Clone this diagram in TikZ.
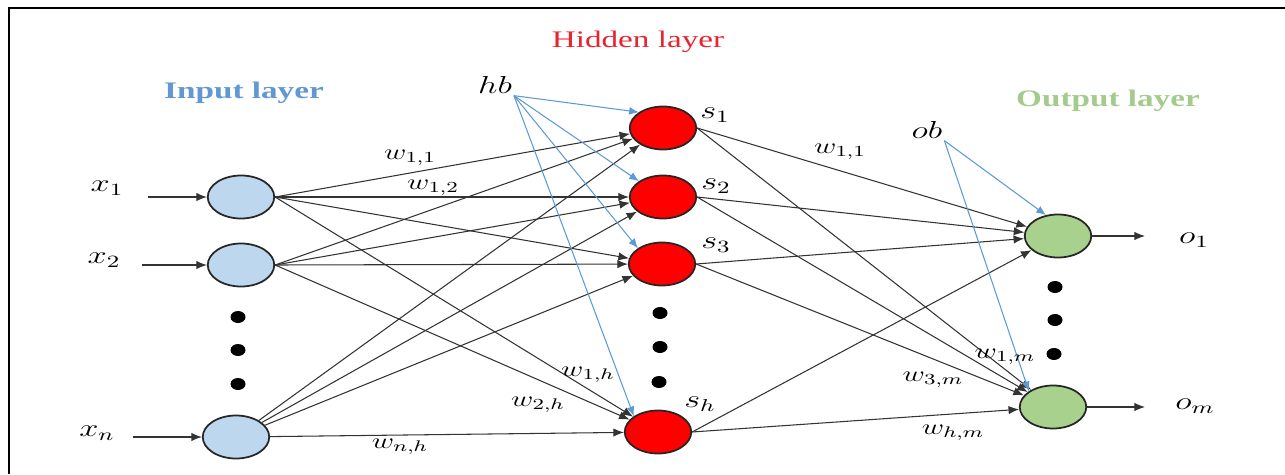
\documentclass[tikz,border=0pt]{standalone}
\usepackage{fix-cm}
\usepackage{fontspec}
\usetikzlibrary{
    arrows.meta,
    shapes.geometric
}
\newfontfamily\titlefont{Liberation Serif}
\definecolor{inblue}{RGB}{189,215,238}
\definecolor{hidred}{RGB}{255,0,0}
\definecolor{outgreen}{RGB}{169,209,142}
\definecolor{biasblue}{RGB}{91,155,213}
\definecolor{intitle}{RGB}{98,152,210}
\definecolor{hidtitle}{RGB}{232,36,48}
\definecolor{outtitle}{RGB}{163,204,140}
\newcommand{\stretchx}[1]{\scalebox{1.4}[1]{#1}}

\begin{document}
\begin{tikzpicture}[
    x=0.02cm, y=-0.02cm,
    neuron/.style={
        ellipse,
        draw=black!85,
        line width=1pt,
        minimum width=1.33cm,
        minimum height=0.86cm,
        inner sep=0pt
    },
    inneuron/.style={neuron, fill=inblue},
    hidneuron/.style={neuron, fill=hidred},
    outneuron/.style={neuron, fill=outgreen},
    dot/.style={
        ellipse,
        fill=black,
        minimum width=0.3cm,
        minimum height=0.24cm,
        inner sep=0pt
    },
    arrow/.style={
        -{Latex[length=6pt,width=4.8pt]},
        line width=0.6pt,
        draw=black!80
    },
    biasarrow/.style={
        -{Latex[length=5.5pt,width=4.5pt]},
        line width=0.6pt,
        draw=biasblue
    },
    lbl/.style={font=\fontsize{14}{16}\selectfont, inner sep=1pt},
    weight/.style={font=\fontsize{12.5}{14}\selectfont, inner sep=1pt},
    layertitle/.style={font=\titlefont\fontsize{13.5}{15}\selectfont}
]
\useasboundingbox (0,0) rectangle (1285,474);
\draw[line width=1.7pt] (9,474) -- (9,8) -- (1285,8);

% =========================================================
% Layer titles
% =========================================================
\node[layertitle, text=intitle] (intitle) at (244,93) {\stretchx{\bfseries Input layer}};
\node[layertitle, text=hidtitle] (hidtitle) at (638,42) {\stretchx{Hidden layer}};
\node[layertitle, text=outtitle] (outtitle) at (1108,101) {\stretchx{\bfseries Output layer}};

% =========================================================
% Neurons
% =========================================================
\node[inneuron] (x1) at (241,197) {};
\node[inneuron] (x2) at (241,265) {};
\node[inneuron] (xn) at (236,437) {};

\node[hidneuron] (s1) at (663,128) {};
\node[hidneuron] (s2) at (663,197) {};
\node[hidneuron] (s3) at (662,264) {};
\node[hidneuron] (sh) at (658,432) {};

\node[outneuron] (o1) at (1058,236) {};
\node[outneuron] (om) at (1053,407) {};

\node[dot] (xdot1) at (238,317) {};
\node[dot] (xdot2) at (238,350) {};
\node[dot] (xdot3) at (238,384) {};
\node[dot] (sdot1) at (660,313) {};
\node[dot] (sdot2) at (660,347) {};
\node[dot] (sdot3) at (659,382) {};
\node[dot] (odot1) at (1055,287) {};
\node[dot] (odot2) at (1055,320) {};
\node[dot] (odot3) at (1054,354) {};

% =========================================================
% Inputs, outputs and neuron labels
% =========================================================
\node[lbl] (x1lbl) at (107,188) {\stretchx{$x_1$}};
\node[lbl] (x2lbl) at (104,260) {\stretchx{$x_2$}};
\node[lbl] (xnlbl) at (97,433) {\stretchx{$x_n$}};
\coordinate (x1in) at (148,197);
\coordinate (x2in) at (142,265);
\coordinate (xnin) at (133,437);
\draw[arrow] (x1in) -- (x1);
\draw[arrow] (x2in) -- (x2);
\draw[arrow] (xnin) -- (xn);

\node[lbl] (s1lbl) at (715,115) {\stretchx{$s_1$}};
\node[lbl] (s2lbl) at (716,186) {\stretchx{$s_2$}};
\node[lbl] (s3lbl) at (716,245) {\stretchx{$s_3$}};
\node[lbl] (shlbl) at (700,404) {\stretchx{$s_h$}};

\node[lbl] (o1lbl) at (1194,240) {\stretchx{$o_1$}};
\node[lbl] (omlbl) at (1195,406) {\stretchx{$o_m$}};
\coordinate (o1out) at (1145,236);
\coordinate (omout) at (1145,407);
\draw[arrow] (o1) -- (o1out);
\draw[arrow] (om) -- (omout);

% =========================================================
% Input -> hidden weights
% =========================================================
\draw[arrow] (x1.east) -- (s1);
\draw[arrow] (x1.east) -- (s2);
\draw[arrow] (x1.east) -- (s3);
\draw[arrow] (x1.east) -- (sh);
\draw[arrow] (x2.east) -- (s1);
\draw[arrow] (x2.east) -- (s2);
\draw[arrow] (x2.east) -- (s3);
\draw[arrow] (x2.east) -- (sh);
\draw[arrow] (xn) -- (s1);
\draw[arrow] (xn) -- (s2);
\draw[arrow] (xn) -- (s3);
\draw[arrow] (xn) -- (sh);

% =========================================================
% Hidden -> output weights
% =========================================================
\draw[arrow] (s1.east) -- (o1);
\draw[arrow] (s1.east) -- (om);
\draw[arrow] (s2.east) -- (o1);
\draw[arrow] (s2.east) -- (om);
\draw[arrow] (s3.east) -- (o1);
\draw[arrow] (s3.east) -- (om);
\draw[arrow] (sh.east) -- (o1);
\draw[arrow] (sh.east) -- (om);

% =========================================================
% Biases
% =========================================================
\node[lbl] (hb) at (495,85) {\stretchx{$hb$}};
\node[lbl] (ob) at (927,130) {\stretchx{$ob$}};
\draw[biasarrow] (hb.south east) -- (s1.north west);
\draw[biasarrow] (hb.south east) -- (s2.north west);
\draw[biasarrow] (hb.south east) -- (s3.north west);
\draw[biasarrow] (hb.south east) -- (sh.north west);
\draw[biasarrow] (ob.south east) -- (o1.120);
\draw[biasarrow] (ob.south east) -- (om.north west);

% =========================================================
% Weight labels
% =========================================================
\node[weight] (w11) at (410,158) {\stretchx{$w_{1,1}$}};
\node[weight] (w12) at (433,188) {\stretchx{$w_{1,2}$}};
\node[weight] (w1h) at (588,375) {\stretchx{$w_{1,h}$}};
\node[weight] (w2h) at (538,405) {\stretchx{$w_{2,h}$}};
\node[weight] (wnh) at (400,447) {\stretchx{$w_{n,h}$}};
\node[weight] (wo11) at (840,152) {\stretchx{$w_{1,1}$}};
\node[weight] (w1m) at (1005,357) {\stretchx{$w_{1,m}$}};
\node[weight] (w3m) at (933,380) {\stretchx{$w_{3,m}$}};
\node[weight] (whm) at (953,433) {\stretchx{$w_{h,m}$}};

\end{tikzpicture}
\end{document}
